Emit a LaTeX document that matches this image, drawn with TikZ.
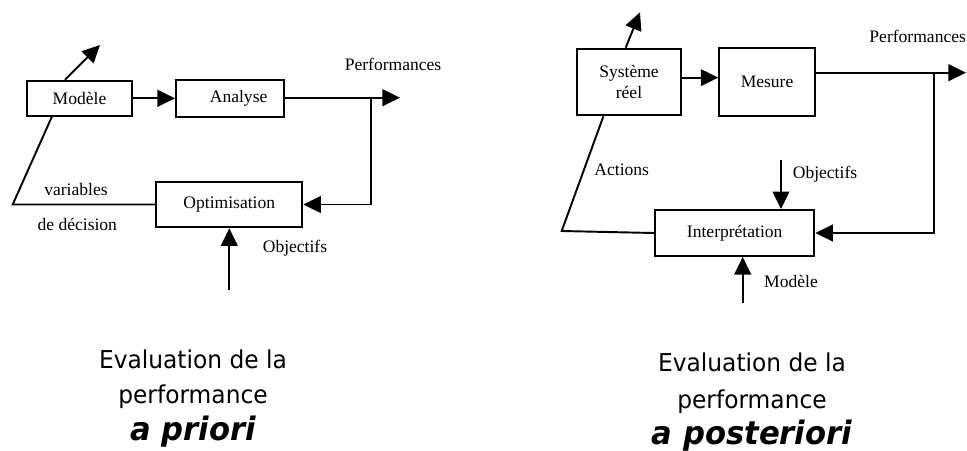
\documentclass[tikz,border=0pt]{standalone}
\usepackage{fontspec}
\setmainfont{Liberation Serif}
\newfontfamily\capfont[FakeStretch=0.95]{DejaVu Sans}
\usepackage{tikz}
\usetikzlibrary{positioning, calc, arrows.meta}
\newlength{\LineW}
\setlength\LineW{1.1pt}

\begin{document}
\begin{tikzpicture}[
    x = 0.57pt, y = -0.57pt, > = {Triangle[length = 10pt, width = 9.5pt]},
    font = \fontsize{10}{12}\selectfont, align = center,
    block/.style = {rectangle, draw, line width = \LineW, inner sep = 0pt},
    path/.style = {arrows = ->, line width = \LineW},
    link/.style = {line width = \LineW},
    caption/.style = {anchor = base, inner sep = 0pt, font = \capfont\fontsize{14}{16}\selectfont},
    captionbig/.style = {anchor = base, inner sep = 0pt, font = \capfont\bfseries\itshape\fontsize{18.4}{21}\selectfont},
    ]
    \useasboundingbox (0,0) rectangle (967,450);

    % a priori
    \node [block, minimum width = 60.2pt, minimum height = 20.1pt] (modele) at (79.5,98.3) {Modèle};
    \node [block, minimum width = 61.4pt, minimum height = 21.1pt] (analyse) [right = 23.8pt of modele] {\hspace*{10pt}Analyse};
    \node [block, minimum width = 83.2pt, minimum height = 26pt]   (optim) at (229.3,204.5) {Optimisation};

    \coordinate (modOut) at (100,45);
    \coordinate (perfL)  at (400,97.7);
    \coordinate (brL)    at (371,97.7);
    \coordinate (cornL)  at (12.7,204.5);
    \coordinate (objL)   at (229.3,290);

    \node (perfLtxt) at (393,64.3)  {Performances};
    \node (varTxt)   at (76,189)    {variables};
    \node (decTxt)   at (77.3,224.3) {de décision};
    \node (objLtxt)  at (295,248.3) {Objectifs};

    \draw [path] (modele) -- (analyse);
    \draw [path] ([xshift=-8.3pt]modele.north) -- (modOut);
    \draw [path] (analyse.east |- perfL) -- (perfL);
    \draw [path] (brL) |- (optim.east);
    \draw [link] (optim.west) -- (cornL) -- ([xshift=-15.8pt]modele.south);
    \draw [path] (objL) -- (optim.south);

    % a posteriori
    \node [block, minimum width = 58.9pt, minimum height = 38pt]   (sysreel) at (629,82) {Système\\réel};
    \node [block, minimum width = 54.5pt, minimum height = 38.4pt] (mesure) [right = 20.9pt of sysreel] {Mesure};
    \node [block, minimum width = 90.8pt, minimum height = 26.2pt] (interp) at (734.7,233) {Interprétation};

    \coordinate (sysOut) at (640,12.3);
    \coordinate (perfR)  at (966,72.7);
    \coordinate (brR)    at (934.3,72.7);
    \coordinate (cornR)  at (561.7,231);
    \coordinate (objR)   at (781,160);
    \coordinate (modR)   at (742.7,302.7);

    \node (perfRtxt) at (917.7,36)   {Performances};
    \node (actTxt)   at (621.7,169.3) {Actions};
    \node (objRtxt)  at (825,174)    {Objectifs};
    \node (modRtxt)  at (791,281.7)  {Modèle};

    \draw [path] ([yshift=2.5pt]sysreel.east) -- ([yshift=2.5pt]sysreel.east -| mesure.west);
    \draw [path] ([xshift=-1.9pt]sysreel.north) -- (sysOut);
    \draw [path] (mesure.east |- perfR) -- (perfR);
    \draw [path] (brR) |- (interp.east);
    \draw [link] (interp.west) -- (cornR) -- ([xshift=-14.6pt]sysreel.south);
    \draw [path] (objR) -- (objR |- interp.north);
    \draw [path] (modR) -- (modR |- interp.south);

    % captions
    \node [caption]    (capL1) at (193,368)   {Evaluation de la};
    \node [caption]    (capL2) at (193,403.3) {performance};
    \node [captionbig] (capL3) at (193,440.7) {a priori};
    \node [caption]    (capR1) at (752,371.7) {Evaluation de la};
    \node [caption]    (capR2) at (752,408)   {performance};
    \node [captionbig] (capR3) at (752,444)   {a posteriori};
\end{tikzpicture}
\end{document}
